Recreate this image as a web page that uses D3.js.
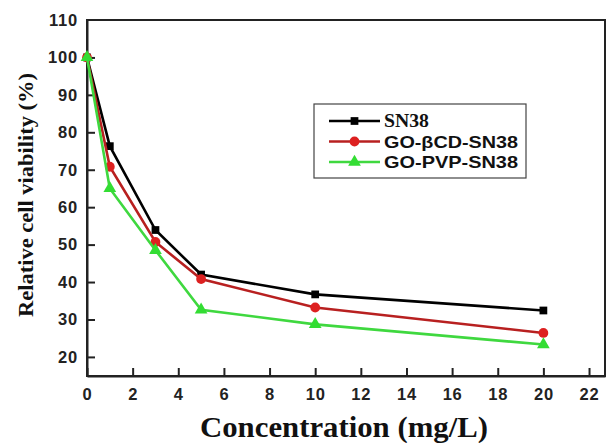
<!DOCTYPE html>
<html>
<head>
<meta charset="utf-8">
<script src="https://cdn.jsdelivr.net/npm/d3@7"></script>
<style>
  body { margin: 0; background: #fff; }
  svg { display: block; }
</style>
</head>
<body>
<svg id="chart" width="607" height="443"></svg>
<script>
// data
const conc = [0, 1, 3, 5, 10, 20];
const sn38 = [100, 76.3, 53.9, 42.0, 36.7, 32.4];
const goBcd = [100, 70.8, 50.7, 40.8, 33.2, 26.4];
const goPvp = [100, 65.0, 48.5, 32.6, 28.7, 23.3];
const seriesNames = ["SN38", "GO-\u03B2CD-SN38", "GO-PVP-SN38"];
const xTicks = [0, 2, 4, 6, 8, 10, 12, 14, 16, 18, 20, 22];
const yTicks = [20, 30, 40, 50, 60, 70, 80, 90, 100, 110];

const series = [
  {name: seriesNames[0], vals: sn38, color: "#000", mark: "#000", sym: d3.symbolSquare, size: 60, font: "'Liberation Serif', serif", fs: 18, len: 45},
  {name: seriesNames[1], vals: goBcd, color: "#b82020", mark: "#dd2020", sym: d3.symbolCircle, size: 75, font: "'Liberation Sans', Arial, sans-serif", fs: 17, len: 134},
  {name: seriesNames[2], vals: goPvp, color: "#3fd83f", mark: "#33dd33", sym: d3.symbolTriangle, size: 70, font: "'Liberation Sans', Arial, sans-serif", fs: 17, len: 134}
];

const margin = {top: 20, right: 2, bottom: 67, left: 87};
const width = 607 - margin.left - margin.right,
      height = 443 - margin.top - margin.bottom;

const svg = d3.select("#chart")
  .append("g")
  .attr("transform", "translate(" + margin.left + "," + margin.top + ")");

const x = d3.scaleLinear().domain([0, 22.7]).range([0, width]);
const y = d3.scaleLinear().domain([14.9, 110]).range([height, 0]);

// frame
svg.append("rect")
  .attr("width", width).attr("height", height)
  .attr("fill", "none").attr("stroke", "#222").attr("stroke-width", 2);

// axes, ticks point inward
const xAxis = svg.append("g")
  .attr("transform", "translate(0," + height + ")")
  .call(d3.axisBottom(x).tickValues(xTicks).tickSizeInner(-8).tickSizeOuter(0).tickPadding(12));
const yAxis = svg.append("g")
  .call(d3.axisLeft(y).tickValues(yTicks).tickSizeInner(-8).tickSizeOuter(0).tickPadding(9));

[xAxis, yAxis].forEach(a => {
  a.select(".domain").attr("stroke", "#222").attr("stroke-width", 2);
  a.selectAll(".tick line").attr("stroke", "#222").attr("stroke-width", 2);
  a.selectAll(".tick text")
    .attr("fill", "#222")
    .style("font-family", "'Liberation Sans', Arial, sans-serif")
    .style("font-weight", "bold")
    .style("font-size", "16.5px")
    .style("letter-spacing", "0.8px");
});
// 110 sits on the top frame, drop its tick
yAxis.selectAll(".tick").filter(d => d === 110).select("line").remove();

// lines + markers
const line = d3.line().x((d, i) => x(conc[i])).y(d => y(d));
series.forEach(s => {
  svg.append("path")
    .datum(s.vals)
    .attr("d", line)
    .attr("fill", "none")
    .attr("stroke", s.color)
    .attr("stroke-width", 2.6);
  svg.selectAll(null)
    .data(s.vals).enter()
    .append("path")
    .attr("d", d3.symbol().type(s.sym).size(s.size))
    .attr("transform", (d, i) => "translate(" + x(conc[i]) + "," + y(d) + ")")
    .attr("fill", s.mark);
});

// legend
const lg = svg.append("g").attr("transform", "translate(" + (314 - margin.left) + "," + (104 - margin.top) + ")");
lg.append("rect").attr("width", 212).attr("height", 74)
  .attr("fill", "#fff").attr("stroke", "#444").attr("stroke-width", 1.2);
series.forEach((s, i) => {
  const g = lg.append("g").attr("transform", "translate(0," + (17 + i * 20.5) + ")");
  g.append("line").attr("x1", 15).attr("x2", 66).attr("y1", 0).attr("y2", 0)
    .attr("stroke", s.color).attr("stroke-width", 2.6);
  g.append("path").attr("d", d3.symbol().type(s.sym).size(s.size))
    .attr("transform", "translate(40.5,0)").attr("fill", s.mark);
  g.append("text").attr("x", 70).attr("y", 6)
    .style("font-family", s.font)
    .style("font-weight", "bold")
    .style("font-size", s.fs + "px")
    .attr("textLength", s.len)
    .attr("lengthAdjust", "spacingAndGlyphs")
    .attr("fill", "#111")
    .text(s.name);
});

// axis titles
svg.append("text")
  .attr("x", 200 - margin.left)
  .attr("y", height + 61)
  .attr("textLength", 288)
  .attr("lengthAdjust", "spacingAndGlyphs")
  .style("font-family", "'Liberation Serif', 'Times New Roman', serif")
  .style("font-weight", "bold")
  .style("font-size", "29px")
  .attr("fill", "#111")
  .text("Concentration (mg/L)");

svg.append("text")
  .attr("transform", "rotate(-90)")
  .attr("x", -(317 - margin.top))
  .attr("y", -margin.left + 33)
  .attr("textLength", 244)
  .attr("lengthAdjust", "spacingAndGlyphs")
  .style("font-family", "'Liberation Serif', 'Times New Roman', serif")
  .style("font-weight", "bold")
  .style("font-size", "22px")
  .attr("fill", "#111")
  .text("Relative cell viability (%)");
</script>
</body>
</html>
